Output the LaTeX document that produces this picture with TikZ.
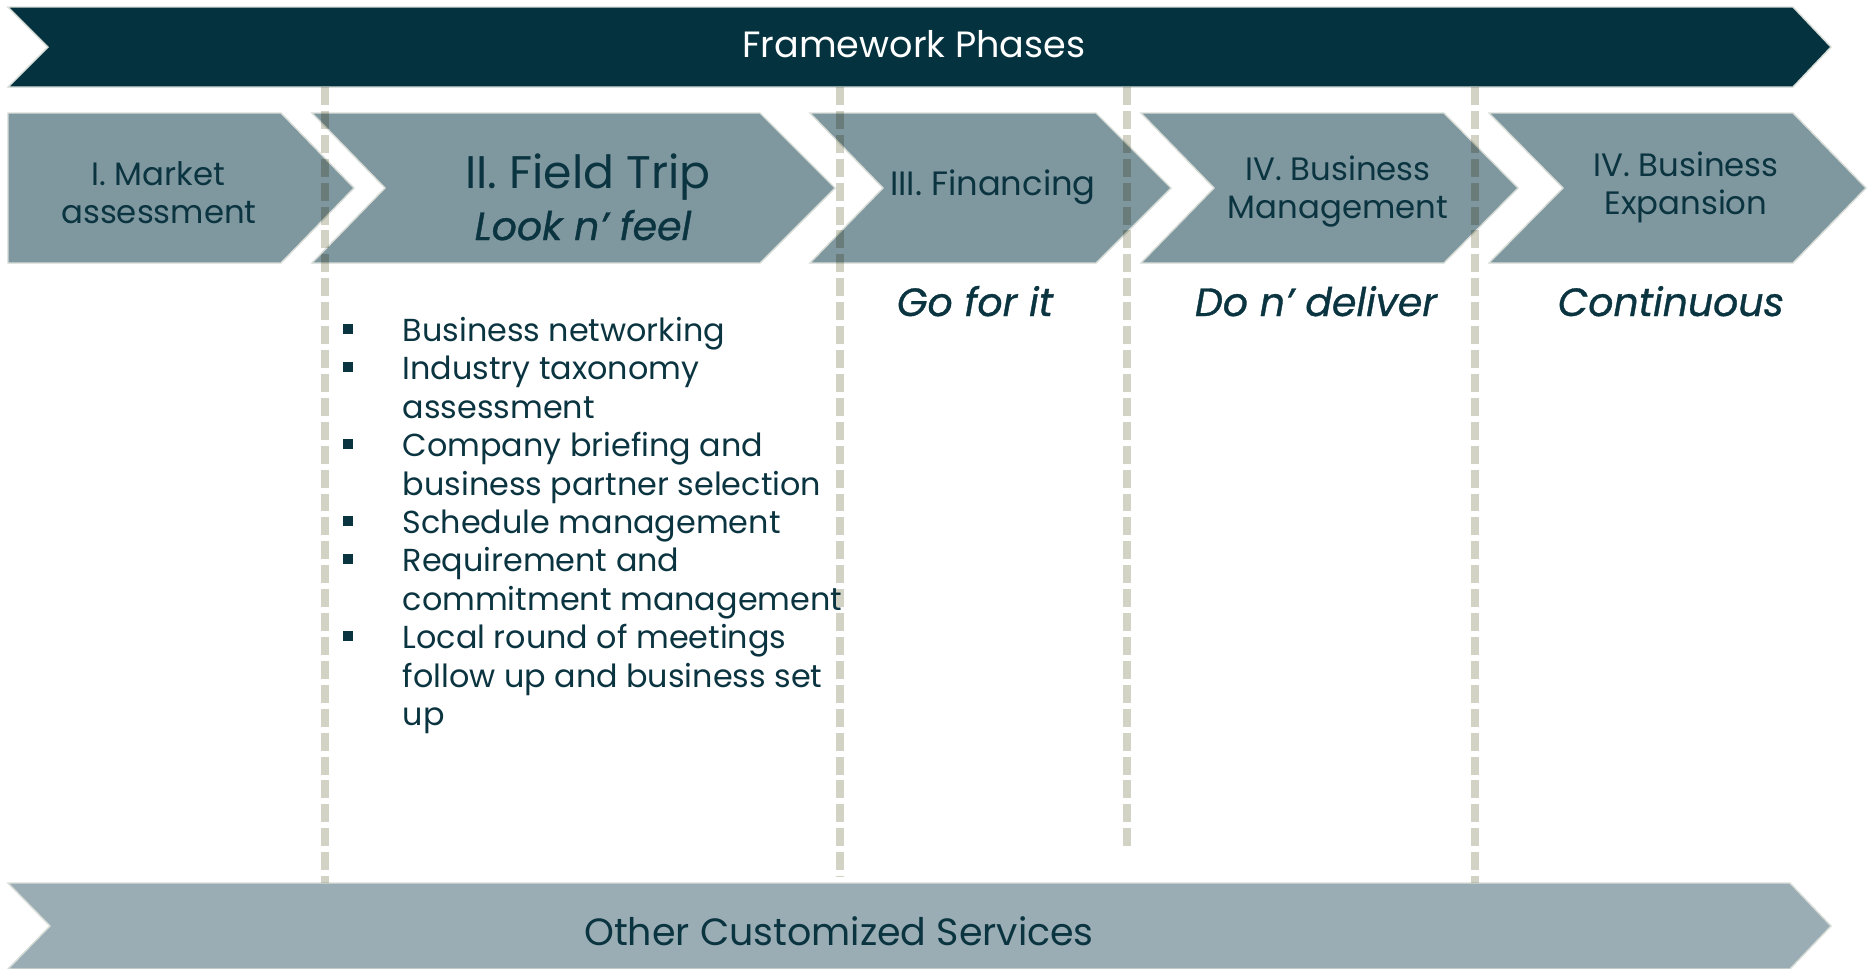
\documentclass[tikz,border=0pt]{standalone}
\usepackage{fontspec}
\setmainfont{Poppins}
\newfontfamily\mottofont[FakeBold=0.9]{Poppins}
\usepackage{xcolor}

\definecolor{bannerteal}{HTML}{04323F}
\definecolor{phasegrey}{HTML}{7F979E}
\definecolor{servicegrey}{HTML}{9AADB4}
\definecolor{dashbeige}{HTML}{D3D3C5}
\definecolor{inkteal}{HTML}{0B3441}
\definecolor{rimgrey}{HTML}{D8DDD8}

\tikzset{
	phase/.style={fill=phasegrey, draw=rimgrey, line width=0.4pt},
	phasetext/.style={text=inkteal, font=\fontsize{9.2}{10.5}\selectfont, anchor=base, inner sep=0pt},
	mottotext/.style={text=inkteal, font=\fontsize{11.2}{13}\mottofont\itshape, anchor=base, inner sep=0pt},
	listtext/.style={text=inkteal, font=\fontsize{9.05}{11}\selectfont, anchor=base west, inner sep=0pt},
	bulletsq/.style={fill=inkteal, minimum size=2.8pt, inner sep=0pt},
	divider/.style={draw=dashbeige, line width=2pt, dash pattern=on 5.1pt off 1.7pt}
}

\begin{document}
\begin{tikzpicture}[x=0.01cm, y=-0.01cm]
	\useasboundingbox (0,0) rectangle (1868,969);

	%top banner
	\fill[bannerteal, draw=rimgrey, line width=0.4pt] (8,7)--(1793,7)--(1831,47)--(1793,87)--(8,87)--(48,47)--cycle;
	\node[text=white, font=\fontsize{10.4}{12}\selectfont, anchor=base, inner sep=0pt] (title) at (914,57) {Framework Phases};

	%phases
	\path[phase] (8,113)--(281,113)--(354,188)--(281,263)--(8,263)--cycle;
	\path[phase] (312,113)--(760,113)--(835,188)--(760,263)--(312,263)--(385,188)--cycle;
	\path[phase] (810,113)--(1096,113)--(1171,188)--(1096,263)--(810,263)--(883,188)--cycle;
	\path[phase] (1141,113)--(1444,113)--(1518,188)--(1444,263)--(1141,263)--(1214,188)--cycle;
	\path[phase] (1489,113)--(1793,113)--(1866,188)--(1793,263)--(1489,263)--(1563,188)--cycle;

	\node[phasetext] (market) at (158,185) {I. Market};
	\node[phasetext] (marketb) at (159,223) {assessment};
	\node[phasetext, font=\fontsize{13}{15}\selectfont] (field) at (588,188) {II. Field Trip};
	\node[mottotext] (lookfeel) at (583,240) {Look n’ feel};
	\node[phasetext, font=\fontsize{9.6}{11}\selectfont] (financing) at (993,195) {III. Financing};
	\node[phasetext] (manage) at (1338,180) {IV. Business};
	\node[phasetext] (manageb) at (1338,218) {Management};
	\node[phasetext] (expand) at (1686,176) {IV. Business};
	\node[phasetext] (expandb) at (1686,214) {Expansion};

	%mottos
	\node[mottotext] (gofor) at (975,316) {Go for it};
	\node[mottotext] (deliver) at (1316,316) {Do n’ deliver};
	\node[mottotext] (continuous) at (1671,316) {Continuous};

	%field trip list
	\node[bulletsq] (b1) at (348,329) {};
	\node[listtext] (l1) at (402,341) {Business networking};
	\node[bulletsq] (b2) at (348,367) {};
	\node[listtext] (l2) at (402,379) {Industry taxonomy};
	\node[listtext] (l3) at (402,418) {assessment};
	\node[bulletsq] (b3) at (348,444) {};
	\node[listtext] (l4) at (402,456) {Company briefing and};
	\node[listtext] (l5) at (402,495) {business partner selection};
	\node[bulletsq] (b4) at (348,521) {};
	\node[listtext] (l6) at (402,533) {Schedule management};
	\node[bulletsq] (b5) at (348,559) {};
	\node[listtext] (l7) at (402,571) {Requirement and};
	\node[listtext] (l8) at (402,610) {commitment management};
	\node[bulletsq] (b6) at (348,636) {};
	\node[listtext] (l9) at (402,648) {Local round of meetings};
	\node[listtext] (l10) at (402,687) {follow up and business set};
	\node[listtext] (l11) at (402,725) {up};

	%bottom banner
	\fill[servicegrey, draw=rimgrey, line width=0.4pt] (8,883)--(1790,883)--(1831,926)--(1790,969)--(8,969)--(50,926)--cycle;
	\node[text=inkteal, font=\fontsize{10.8}{12}\selectfont, anchor=base, inner sep=0pt] (services) at (839,945) {Other Customized Services};

	%dividers
	\coordinate (d1t) at (325,87);  \coordinate (d1b) at (325,883);
	\coordinate (d2t) at (840,87);  \coordinate (d2b) at (840,877);
	\coordinate (d3t) at (1127,87); \coordinate (d3b) at (1127,852);
	\coordinate (d4t) at (1475,87); \coordinate (d4b) at (1475,883);
	\begin{scope}[blend mode=multiply]
		\draw[divider] (d1t)--(d1b);
		\draw[divider] (d2t)--(d2b);
		\draw[divider] (d3t)--(d3b);
		\draw[divider] (d4t)--(d4b);
	\end{scope}
\end{tikzpicture}
\end{document}
